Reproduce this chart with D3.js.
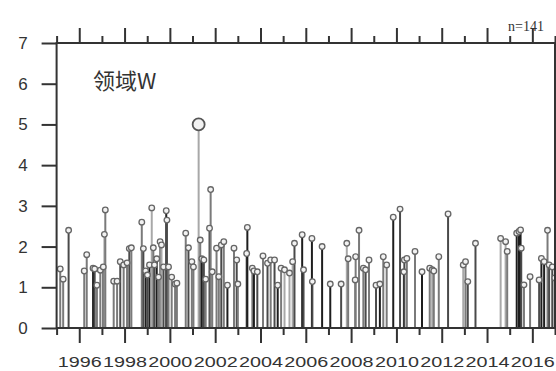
<!DOCTYPE html>
<html>
<head>
<meta charset="utf-8">
<script src="https://cdn.jsdelivr.net/npm/d3@7/dist/d3.min.js"></script>
<style>
  html, body { margin: 0; padding: 0; background: #fff; }
  svg { display: block; }
</style>
</head>
<body>
<svg id="chart" width="556" height="371"></svg>
<script>
// ---- data ----
const title = "领域W";
const countLabel = "n=141";
const yTicks = [0, 1, 2, 3, 4, 5, 6, 7];
const xLabelYears = [1996, 1998, 2000, 2002, 2004, 2006, 2008, 2010, 2012, 2014, 2016];
const xMinorYears = [1995, 1997, 1999, 2001, 2003, 2005, 2007, 2009, 2011, 2013, 2015, 2017];

// event time (decimal year), peak value, shade group (0 = darkest … 3 = lightest)
const times = [
  1995.16, 1995.29, 1995.53, 1996.22, 1996.33, 1996.61, 1996.68, 1996.78, 1996.93, 1997.06,
  1997.11, 1997.15, 1997.52, 1997.67, 1997.81, 1997.96, 1998.11, 1998.21, 1998.30, 1998.76,
  1998.83, 1998.93, 1999.01, 1999.10, 1999.20, 1999.27, 1999.32, 1999.42, 1999.50, 1999.57,
  1999.63, 1999.72, 1999.84, 1999.87, 1999.94, 2000.08, 2000.23, 2000.31, 2000.70, 2000.82,
  2000.97, 2001.04, 2001.27, 2001.34, 2001.41, 2001.50, 2001.58, 2001.75, 2001.80, 2001.87,
  2002.06, 2002.16, 2002.27, 2002.38, 2002.54, 2002.83, 2002.95, 2003.00, 2003.39, 2003.42,
  2003.64, 2003.71, 2003.86, 2004.11, 2004.31, 2004.45, 2004.62, 2004.76, 2004.91, 2005.06,
  2005.28, 2005.42, 2005.50, 2005.84, 2005.90, 2006.27, 2006.29, 2006.72, 2007.08, 2007.56,
  2007.81, 2007.87, 2008.18, 2008.20, 2008.35, 2008.54, 2008.64, 2008.79, 2009.10, 2009.27,
  2009.42, 2009.57, 2009.86, 2010.16, 2010.33, 2010.35, 2010.46, 2010.82, 2011.13, 2011.47,
  2011.58, 2011.65, 2011.87, 2012.28, 2012.95, 2013.05, 2013.15, 2013.49, 2014.60, 2014.82,
  2014.89, 2015.31, 2015.41, 2015.48, 2015.51, 2015.63, 2015.90, 2016.30, 2016.40, 2016.52,
  2016.67, 2016.74, 2016.88, 2016.99
];
const values = [
  1.45, 1.20, 2.40, 1.40, 1.80, 1.47, 1.45, 1.05, 1.42, 1.50,
  2.30, 2.90, 1.15, 1.15, 1.63, 1.55, 1.60, 1.95, 1.97, 2.60,
  1.95, 1.40, 1.30, 1.55, 2.95, 1.97, 1.55, 1.70, 1.25, 2.12,
  2.04, 1.50, 2.88, 2.65, 1.50, 1.25, 1.08, 1.10, 2.33, 1.97,
  1.63, 1.50, 5.00, 2.16, 1.70, 1.67, 1.20, 2.45, 3.40, 1.38,
  1.96, 1.26, 2.04, 2.12, 1.05, 1.96, 1.67, 1.08, 1.83, 2.47,
  1.47, 1.40, 1.38, 1.77, 1.59, 1.67, 1.67, 1.05, 1.47, 1.43,
  1.35, 1.63, 2.08, 2.29, 1.43, 2.20, 1.14, 2.00, 1.08, 1.08,
  2.08, 1.70, 1.18, 1.75, 2.40, 1.47, 1.43, 1.67, 1.05, 1.08,
  1.75, 1.55, 2.72, 2.92, 1.38, 1.67, 1.71, 1.88, 1.38, 1.47,
  1.43, 1.40, 1.75, 2.80, 1.55, 1.63, 1.14, 2.08, 2.20, 2.12,
  1.88, 2.33, 2.37, 2.41, 1.96, 1.06, 1.26, 1.18, 1.71, 1.63,
  2.40, 1.55, 1.50, 1.23
];
const shades = [
  2, 2, 1, 2, 2, 0, 1, 2, 2, 1,
  3, 2, 2, 2, 1, 2, 2, 1, 2, 2,
  1, 0, 1, 0, 3, 2, 1, 0, 2, 2,
  3, 1, 0, 1, 2, 2, 2, 2, 2, 1,
  2, 2, 3, 2, 0, 1, 2, 1, 2, 2,
  2, 2, 1, 2, 0, 2, 1, 2, 1, 0,
  2, 0, 1, 2, 1, 2, 1, 0, 2, 3,
  3, 3, 1, 0, 1, 0, 1, 0, 0, 1,
  3, 2, 2, 2, 2, 2, 1, 2, 1, 0,
  2, 2, 0, 1, 0, 1, 2, 2, 0, 2,
  3, 2, 2, 1, 3, 2, 1, 1, 3, 3,
  2, 0, 0, 0, 1, 2, 2, 1, 0, 0,
  2, 1, 1, 1
];

// ---- layout ----
const svg = d3.select("#chart");
const x = d3.scaleLinear().domain([1995, 2017]).range([56.6, 555]);
const y = d3.scaleLinear().domain([0, 7]).range([328, 43]);
const shadeColor = d3.scaleOrdinal().domain([0, 1, 2, 3]).range(["#1e1e1e", "#4a4a4a", "#7a7a7a", "#a8a8a8"]);
const axisColor = "#333";

const data = times.map((t, i) => ({ t, v: values[i], s: shades[i] }));

// stems
const g = svg.append("g");
g.selectAll("line.stem").data(data).join("line")
  .attr("class", "stem")
  .attr("x1", d => x(d.t)).attr("x2", d => x(d.t))
  .attr("y1", y(0)).attr("y2", d => y(d.v))
  .attr("stroke", d => shadeColor(d.s))
  .attr("stroke-width", 2);

// markers
g.selectAll("circle.mk").data(data).join("circle")
  .attr("class", "mk")
  .attr("cx", d => x(d.t)).attr("cy", d => y(d.v))
  .attr("r", d => d.v >= 4 ? 6 : 2.8)
  .attr("fill", "#f2f2f2")
  .attr("stroke", d => d.v >= 4 ? "#555" : "#666")
  .attr("stroke-width", d => d.v >= 4 ? 1.8 : 1.3);

// frame
const [x0, x1] = x.range();
const [yb, yt] = y.range();
svg.append("rect")
  .attr("x", x0).attr("y", yt)
  .attr("width", x1 - x0).attr("height", yb - yt)
  .attr("fill", "none").attr("stroke", axisColor).attr("stroke-width", 2);

// left axis
const left = svg.append("g").attr("transform", `translate(${x0},0)`)
  .call(d3.axisLeft(y).tickValues(yTicks).tickSize(15).tickPadding(14).tickFormat(d3.format("d")));
left.select(".domain").remove();
left.selectAll(".tick line").attr("stroke", axisColor).attr("stroke-width", 2);
left.selectAll(".tick text")
  .attr("fill", "#333")
  .style("font-family", "Liberation Sans, Arial, sans-serif")
  .style("font-size", "17px");

// bottom axis: major (labeled) ticks
const bottomMajor = svg.append("g").attr("transform", `translate(0,${yb})`)
  .call(d3.axisBottom(x).tickValues(xLabelYears).tickSize(15).tickPadding(0).tickFormat(d3.format("d")));
bottomMajor.select(".domain").remove();
bottomMajor.selectAll(".tick line").attr("stroke", axisColor).attr("stroke-width", 2);
bottomMajor.selectAll(".tick text")
  .attr("y", 39).attr("dy", null)
  .attr("fill", "#333")
  .attr("textLength", 44)
  .attr("lengthAdjust", "spacingAndGlyphs")
  .style("font-family", "Liberation Sans, Arial, sans-serif")
  .style("font-size", "14px");

const bottomMinor = svg.append("g").attr("transform", `translate(0,${yb})`)
  .call(d3.axisBottom(x).tickValues(xMinorYears).tickSize(7).tickFormat(""));
bottomMinor.select(".domain").remove();
bottomMinor.selectAll(".tick line").attr("stroke", axisColor).attr("stroke-width", 2);

// top axis (ticks only, pointing outward)
const topMajor = svg.append("g").attr("transform", `translate(0,${yt})`)
  .call(d3.axisTop(x).tickValues(xLabelYears).tickSize(15).tickFormat(""));
topMajor.select(".domain").remove();
topMajor.selectAll(".tick line").attr("stroke", axisColor).attr("stroke-width", 2);
const topMinor = svg.append("g").attr("transform", `translate(0,${yt})`)
  .call(d3.axisTop(x).tickValues(xMinorYears).tickSize(7).tickFormat(""));
topMinor.select(".domain").remove();
topMinor.selectAll(".tick line").attr("stroke", axisColor).attr("stroke-width", 2);

// title inside the plot
svg.append("text")
  .attr("x", 93).attr("y", 89)
  .attr("fill", "#333")
  .style("font-family", "Noto Sans CJK SC, sans-serif")
  .style("font-size", "22px")
  .text(title);

// count label, top right
svg.append("text")
  .attr("x", 508).attr("y", 31)
  .attr("fill", "#333")
  .style("font-family", "Liberation Serif, serif")
  .style("font-size", "14px")
  .text(countLabel);
</script>
</body>
</html>
